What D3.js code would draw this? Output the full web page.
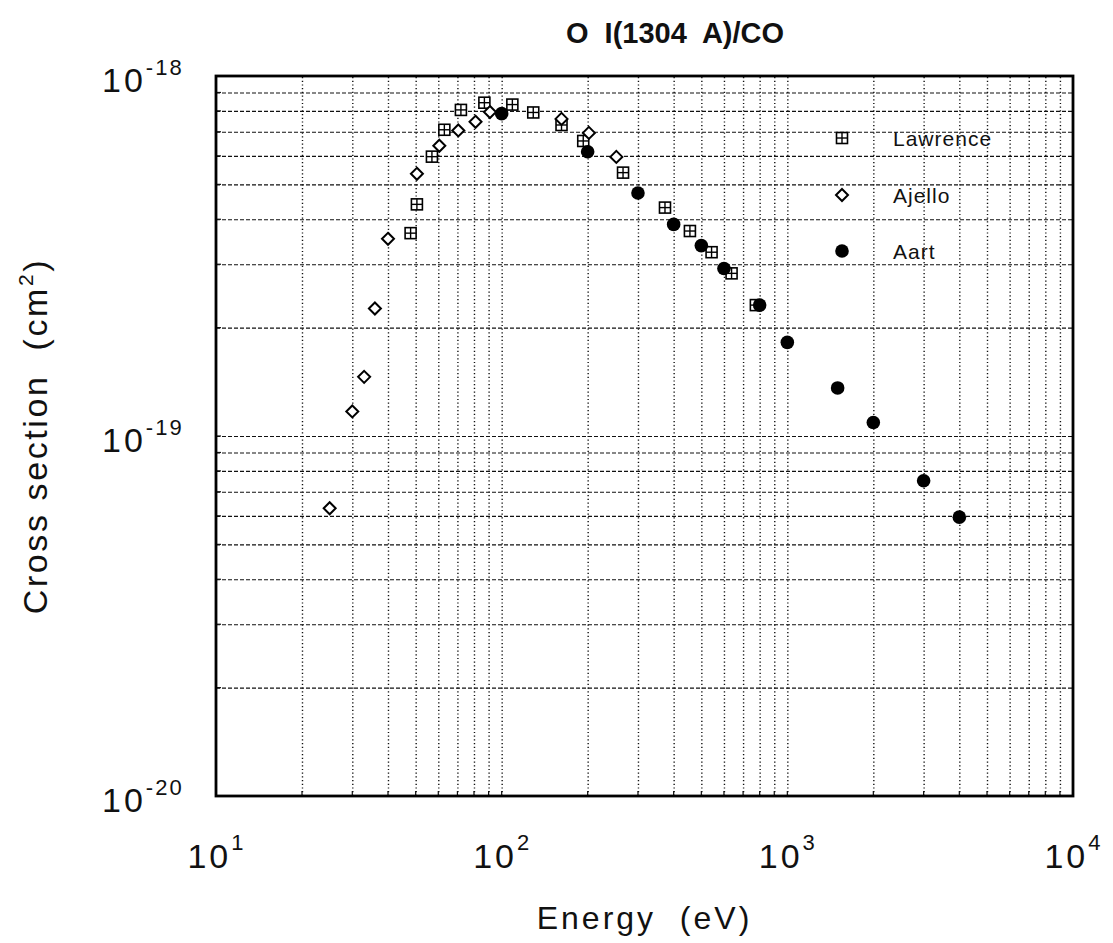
<!doctype html>
<html lang="en">
<head>
<meta charset="utf-8" />
<title>O I(1304 A)/CO</title>
<script src="https://d3js.org/d3.v7.min.js"></script>
<style type="text/css">
body { margin: 0; background: #fff; }
svg text { font-family: "Liberation Sans", Arial, Helvetica, sans-serif; fill: #111; white-space: pre; }
.grid-h line { stroke: #111; stroke-width: 1.1; stroke-dasharray: 4,2; }
.grid-v line { stroke: #111; stroke-width: 1.4; stroke-dasharray: 1.2,2.5; }
</style>
</head>
<body>
<div id="svg_div"></div>
<script>
// energies in eV, cross sections in cm^2
var lawrenceE = [48, 50.5, 57, 63, 72, 87, 109, 129, 162, 193, 266, 373, 456, 543, 638, 776];
var lawrenceSigma = [3.66e-19, 4.40e-19, 5.97e-19, 7.09e-19, 8.05e-19, 8.43e-19, 8.33e-19, 7.92e-19,
  7.31e-19, 6.60e-19, 5.39e-19, 4.31e-19, 3.71e-19, 3.24e-19, 2.83e-19, 2.31e-19];

var ajelloE = [25, 30, 33, 36, 40, 50.5, 60.5, 70.5, 81, 91, 162, 202, 252];
var ajelloSigma = [6.3e-20, 1.17e-19, 1.46e-19, 2.26e-19, 3.53e-19, 5.35e-19, 6.40e-19, 7.06e-19,
  7.46e-19, 7.94e-19, 7.60e-19, 6.95e-19, 5.96e-19];

var aartE = [100, 200, 300, 400, 500, 600, 800, 1000, 1500, 2000, 3000, 4000];
var aartSigma = [7.86e-19, 6.16e-19, 4.73e-19, 3.87e-19, 3.38e-19, 2.92e-19, 2.31e-19, 1.82e-19,
  1.36e-19, 1.09e-19, 7.51e-20, 5.95e-20];

var xMajor = [10, 100, 1000, 10000];
var xExp = ["1", "2", "3", "4"];
var yMajor = [1e-18, 1e-19, 1e-20];
var yExp = ["-18", "-19", "-20"];
var seriesNames = ["Lawrence", "Ajello", "Aart"];

var W = 1113, H = 943;
// plot frame (note: "top" is a reserved window property, so use other names)
var pLeft = 216, pRight = 1073, pTop = 76, pBottom = 796;

var svg = d3.select("#svg_div").append("svg")
  .attr("width", W).attr("height", H);

var xScale = d3.scaleLog().domain([10, 10000]).range([pLeft, pRight]);
var yScale = d3.scaleLog().domain([1e-20, 1e-18]).range([pBottom, pTop]);

// minor values for the grid (2..9 in every decade)
var xMinor = [], yMinor = [];
[10, 100, 1000].forEach(function(d){
  for (var k = 2; k <= 9; k++) xMinor.push(d * k);
});
[1e-20, 1e-19].forEach(function(d){
  for (var k = 2; k <= 9; k++) yMinor.push(d * k);
});

// horizontal dashed grid
svg.append("g").attr("class", "grid-h")
  .attr("transform", "translate(" + pLeft + ",0)")
  .call(d3.axisLeft(yScale).tickValues(yMinor.concat([1e-19])).tickSize(-(pRight - pLeft)).tickFormat(""))
  .call(function(g){ g.select(".domain").remove(); });

// vertical dotted grid
svg.append("g").attr("class", "grid-v")
  .attr("transform", "translate(0," + pBottom + ")")
  .call(d3.axisBottom(xScale).tickValues(xMinor.concat([100, 1000])).tickSize(-(pBottom - pTop)).tickFormat(""))
  .call(function(g){ g.select(".domain").remove(); });

// small inner ticks on the frame
var tickG = svg.append("g").attr("stroke", "#111").attr("stroke-width", 1.2);
xMinor.concat(xMajor).forEach(function(d){
  tickG.append("line").attr("x1", xScale(d)).attr("x2", xScale(d))
    .attr("y1", pBottom).attr("y2", pBottom - 5);
});
yMinor.concat(yMajor).forEach(function(d){
  tickG.append("line").attr("x1", pLeft).attr("x2", pLeft + 5)
    .attr("y1", yScale(d)).attr("y2", yScale(d));
});

// frame
svg.append("rect")
  .attr("x", pLeft).attr("y", pTop)
  .attr("width", pRight - pLeft).attr("height", pBottom - pTop)
  .attr("fill", "none").attr("stroke", "#000").attr("stroke-width", 2.8);

// x tick labels 10^n
var xl = svg.selectAll(".xlab").data(xMajor).enter().append("text")
  .attr("class", "xlab")
  .attr("x", function(d){ return xScale(d); })
  .attr("y", 868)
  .attr("text-anchor", "middle")
  .attr("font-size", 34)
  .attr("letter-spacing", 3);
xl.append("tspan").text("10");
xl.append("tspan").attr("dy", -18).attr("font-size", 22).attr("letter-spacing", 1)
  .text(function(d, i){ return xExp[i]; });

// y tick labels 10^-n
var yl = svg.selectAll(".ylab").data(yMajor).enter().append("text")
  .attr("class", "ylab")
  .attr("x", 102)
  .attr("y", function(d){ return yScale(d) + 16; })
  .attr("font-size", 34)
  .attr("letter-spacing", 3);
yl.append("tspan").text("10");
yl.append("tspan").attr("dy", -17).attr("font-size", 22).attr("letter-spacing", 2)
  .text(function(d, i){ return yExp[i]; });

// axis titles
svg.append("text")
  .attr("x", (pLeft + pRight) / 2).attr("y", 929)
  .attr("text-anchor", "middle")
  .attr("font-size", 32).attr("letter-spacing", 3)
  .text("Energy  (eV)");

var yt = svg.append("text")
  .attr("transform", "translate(47," + ((pTop + pBottom) / 2) + ") rotate(-90)")
  .attr("text-anchor", "middle")
  .attr("font-size", 34).attr("letter-spacing", 2.6);
yt.append("tspan").text("Cross section  (cm");
yt.append("tspan").attr("dy", -14).attr("font-size", 21).text("2");
yt.append("tspan").attr("dy", 14).text(")");

// title
svg.append("text")
  .attr("x", 675).attr("y", 43)
  .attr("text-anchor", "middle")
  .attr("font-size", 29).attr("font-weight", "bold")
  .text("O  I(1304  A)/CO");

// marker drawers
function lawrenceMark(g, x, y){
  var s = 5.5;
  g.append("rect").attr("x", x - s).attr("y", y - s).attr("width", 2 * s).attr("height", 2 * s)
    .attr("fill", "#fff").attr("stroke", "#000").attr("stroke-width", 1.6);
  g.append("line").attr("x1", x - s).attr("x2", x + s).attr("y1", y).attr("y2", y)
    .attr("stroke", "#000").attr("stroke-width", 1.4);
  g.append("line").attr("x1", x).attr("x2", x).attr("y1", y - s).attr("y2", y + s)
    .attr("stroke", "#000").attr("stroke-width", 1.4);
}
function ajelloMark(g, x, y){
  var s = 6;
  g.append("path")
    .attr("d", "M" + x + "," + (y - s) + "L" + (x + s) + "," + y + "L" + x + "," + (y + s) + "L" + (x - s) + "," + y + "Z")
    .attr("fill", "#fff").attr("stroke", "#000").attr("stroke-width", 2);
}
function aartMark(g, x, y){
  g.append("circle").attr("cx", x).attr("cy", y).attr("r", 6.8).attr("fill", "#000");
}

var marks = svg.append("g");
lawrenceE.forEach(function(e, i){ lawrenceMark(marks, xScale(e), yScale(lawrenceSigma[i])); });
ajelloE.forEach(function(e, i){ ajelloMark(marks, xScale(e), yScale(ajelloSigma[i])); });
aartE.forEach(function(e, i){ aartMark(marks, xScale(e), yScale(aartSigma[i])); });

// legend
var legY = [138, 195, 251];
var drawers = [lawrenceMark, ajelloMark, aartMark];
var leg = svg.append("g");
seriesNames.forEach(function(name, i){
  drawers[i](leg, 842, legY[i]);
  leg.append("text").attr("x", 893).attr("y", legY[i] + 8)
    .attr("font-size", 21).attr("letter-spacing", 1).text(name);
});
</script>
</body>
</html>
